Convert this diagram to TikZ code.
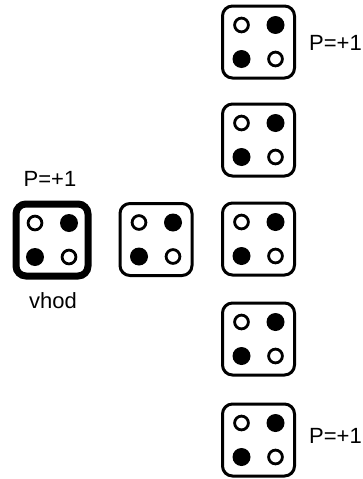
\documentclass[tikz,border=0pt]{standalone}
\usepackage{fontspec}
\setmainfont{Liberation Sans}
\begin{document}
\begin{tikzpicture}[x=1pt,y=-1pt,
  diebox/.style={draw=black,line width=3pt,rounded corners=10pt,
    minimum width=72pt,minimum height=72pt,inner sep=0pt},
  thickbox/.style={diebox,line width=7pt},
  pip/.style={fill=black},
  hole/.style={draw=black,line width=2.8pt,fill=white},
  lbl/.style={font=\fontsize{22}{26}\selectfont,inner sep=0pt},
  pics/die/.default=diebox,
  pics/die/.style={code={
    \node[#1] (-box) at (0,0) {};
    \path[hole] (-17,-17) circle[radius=6.9];
    \path[pip]  ( 17,-17) circle[radius=9];
    \path[pip]  (-17, 17) circle[radius=9];
    \path[hole] ( 17, 17) circle[radius=6.9];
  }}]
\useasboundingbox (0,0) rectangle (363,479);

% input state
\pic (in) at (52,240) {die=thickbox};
\node[lbl,anchor=base] (inP) at (50,186.5) {P=+1};
\node[lbl,anchor=base] (inName) at (53,308) {vhod};

% intermediate state
\pic (mid) at (156,239.5) {die};

% column of output states
\pic (r1) at (258.5,42) {die};
\pic (r2) at (258.5,140) {die};
\pic (r3) at (258.5,239) {die};
\pic (r4) at (258.5,339) {die};
\pic (r5) at (258.5,440) {die};
\node[lbl,anchor=base west] (r1P) at (309,50) {P=+1};
\node[lbl,anchor=base west] (r5P) at (309,443) {P=+1};
\end{tikzpicture}
\end{document}
